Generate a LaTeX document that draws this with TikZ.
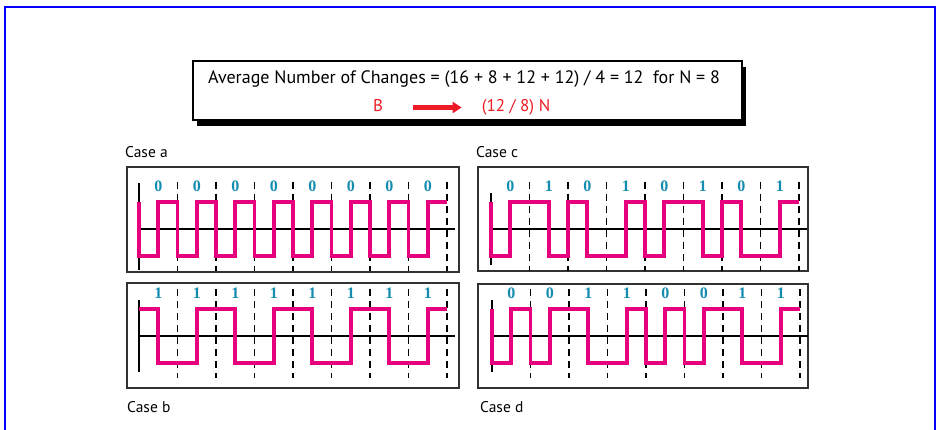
\documentclass[tikz,border=0pt]{standalone}
\usepackage{fontspec}
\setmainfont{PT Sans}
\newfontfamily\digitfont{Liberation Serif}
\usetikzlibrary{positioning,arrows.meta,shadows}

\definecolor{signalpink}{RGB}{230,0,126}
\definecolor{bitblue}{RGB}{20,140,175}
\definecolor{formulared}{RGB}{237,28,36}
\definecolor{panelgray}{RGB}{50,50,50}

\begin{document}
\begin{tikzpicture}[x=1pt, y=-1pt,
    panel/.style = {draw=panelgray, line width=1.6pt},
    axis/.style = {black, line width=1.8pt},
    slot/.style = {black, line width=1.2pt, dash pattern=on 7pt off 5pt},
    signal/.style = {signalpink, line width=3.8pt, line join=miter},
    bitlabel/.style = {text=bitblue, font=\digitfont\bfseries\fontsize{16}{16}\selectfont, inner sep=0pt},
    caselabel/.style = {anchor=base west, font=\fontsize{15.5}{16}\selectfont, inner sep=0pt},
    formula/.style = {font=\fontsize{17}{18}\selectfont, inner sep=0pt, text height=12pt, text depth=3pt}]
    \useasboundingbox (0,0) rectangle (936,430);
    \draw[blue, line width=2pt] (5,440) -- (5,7) -- (935,7) -- (935,440);

    % summary box
    \node[draw, line width=2pt, fill=white, minimum width=549pt, minimum height=59pt,
          drop shadow={shadow xshift=4pt, shadow yshift=-6pt, opacity=1, fill=black}] (summary) at (467.5,90.5) {};
    \node[formula, anchor=base west, font=\fontsize{18}{19}\selectfont] (average) at (208,84) {Average Number of Changes = (16 + 8 + 12 + 12) / 4 = 12 \ for N = 8};
    \node[formula, anchor=base, text=formulared] (rate) at (378,112) {B};
    \node[formula, anchor=base, text=formulared] (ratio) at (516,112) {(12 / 8) N};
    \draw[-{Triangle[length=9pt,width=11pt]}, formulared, line width=4.5pt, shorten <=30pt, shorten >=20pt] (rate) -- (ratio);

    % panels
    \draw[panel] (127,167) rectangle (459,272);
    \draw[panel] (478,167) rectangle (808,271);
    \draw[panel] (127,283) rectangle (459,388);
    \draw[panel] (478,284) rectangle (808,388);
    \node[caselabel] (case-a) at (125,158) {Case a};
    \node[caselabel] (case-c) at (476,158) {Case c};
    \node[caselabel] (case-b) at (127,412) {Case b};
    \node[caselabel] (case-d) at (480,412) {Case d};

    % case a
    \begin{scope}[shift={(139,229)}, x=19.25pt, y=27pt]
        \draw[axis] (0,1.7) -- (0,-1.52);
        \draw[axis] (0,0) -- (16.4,0);
        \foreach \k in {1,...,8} \draw[slot] (2*\k,1.75) -- (2*\k,-1.55);
        \foreach \b [count=\k] in {0,0,0,0,0,0,0,0}
            \node[bitlabel] (a-bit\k) at (2*\k-1,1.6) {\b};
        \draw[signal] (0,1) foreach \l [count=\i] in {-1,1,-1,1,-1,1,-1,1,-1,1,-1,1,-1,1,-1,1} { |- (\i,\l) };
    \end{scope}

    % case c
    \begin{scope}[shift={(491,229)}, x=19.25pt, y=27pt]
        \draw[axis] (0,1.33) -- (0,-1.33);
        \draw[axis] (0,0) -- (16.4,0);
        \foreach \k in {1,...,8} \draw[slot] (2*\k,1.75) -- (2*\k,-1.55);
        \foreach \b [count=\k] in {0,1,0,1,0,1,0,1}
            \node[bitlabel] (c-bit\k) at (2*\k-1,1.6) {\b};
        \draw[signal] (0,1) foreach \l [count=\i] in {-1,1,1,-1,1,-1,-1,1,-1,1,1,-1,1,-1,-1,1} { |- (\i,\l) };
    \end{scope}

    % case b
    \begin{scope}[shift={(139,336)}, x=19.25pt, y=27pt]
        \draw[axis] (0,1.33) -- (0,-1.33);
        \draw[axis] (0,0) -- (16.4,0);
        \foreach \k in {1,...,8} \draw[slot] (2*\k,1.75) -- (2*\k,-1.55);
        \foreach \b [count=\k] in {1,1,1,1,1,1,1,1}
            \node[bitlabel] (b-bit\k) at (2*\k-1,1.6) {\b};
        \draw[signal] (0,1) foreach \l [count=\i] in {1,-1,-1,1,1,-1,-1,1,1,-1,-1,1,1,-1,-1,1} { |- (\i,\l) };
    \end{scope}

    % case d
    \begin{scope}[shift={(492,336)}, x=19.25pt, y=27pt]
        \draw[axis] (0,1.33) -- (0,-1.33);
        \draw[axis] (0,0) -- (16.4,0);
        \foreach \k in {1,...,8} \draw[slot] (2*\k,1.75) -- (2*\k,-1.55);
        \foreach \b [count=\k] in {0,0,1,1,0,0,1,1}
            \node[bitlabel] (d-bit\k) at (2*\k-1,1.6) {\b};
        \draw[signal] (0,1) foreach \l [count=\i] in {-1,1,-1,1,1,-1,-1,1,-1,1,-1,1,1,-1,-1,1} { |- (\i,\l) };
    \end{scope}
\end{tikzpicture}
\end{document}
